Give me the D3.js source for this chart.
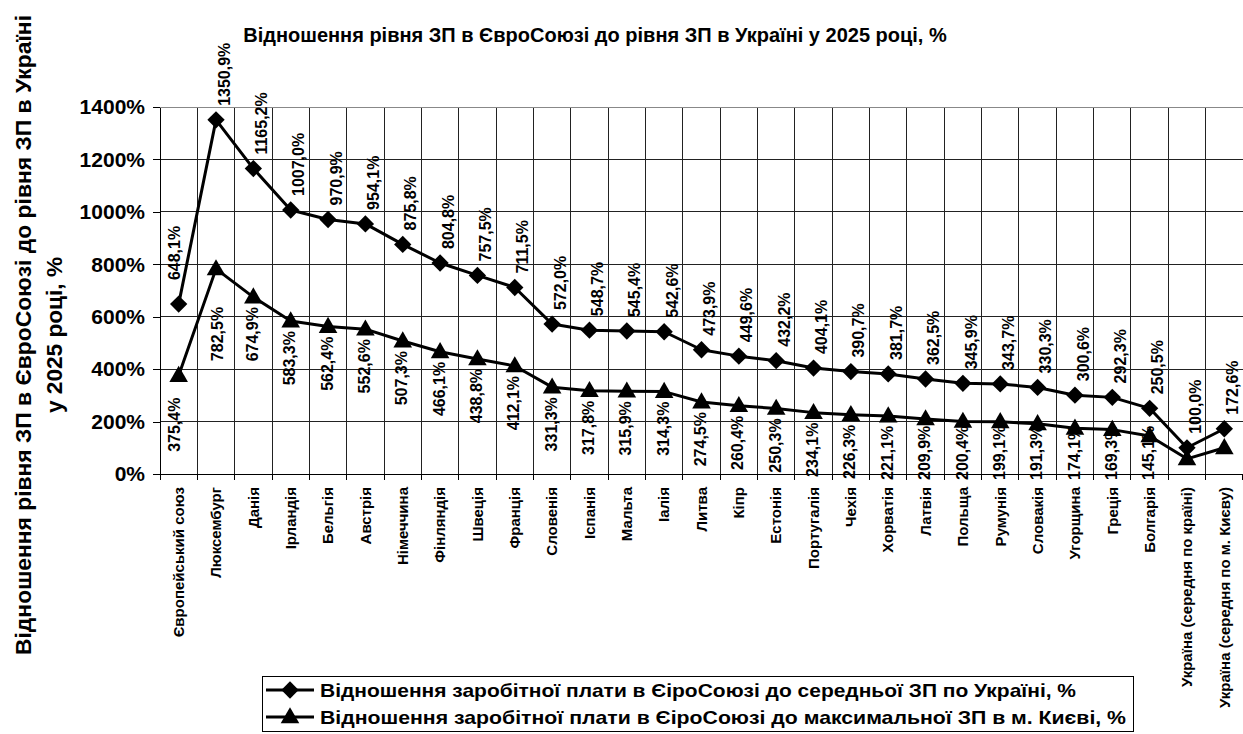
<!DOCTYPE html>
<html lang="uk">
<head>
<meta charset="UTF-8">
<title>Відношення рівня ЗП</title>
<style>
  body { margin: 0; background: #fff; }
  svg { display: block; font-family: "Liberation Sans", Arial, sans-serif; font-weight: bold; }
</style>
</head>
<body>
<script src="https://cdn.jsdelivr.net/npm/d3@7"></script>
<script>
const categories = ['Європейський союз', 'Люксембург', 'Данія', 'Ірландія', 'Бельгія', 'Австрія',
  'Німеччина', 'Фінляндія', 'Швеція', 'Франція', 'Словенія', 'Іспанія', 'Мальта', 'Іалія', 'Литва',
  'Кіпр', 'Естонія', 'Португалія', 'Чехія', 'Хорватія', 'Латвія', 'Польща', 'Румунія', 'Словакія',
  'Угорщина', 'Греція', 'Болгарія', 'Україна (середня по країні)', 'Україна (середня по м. Києву)'];

// відношення до середньої ЗП по Україні, %
const avgRatio = [648.1, 1350.9, 1165.2, 1007.0, 970.9, 954.1, 875.8, 804.8, 757.5, 711.5, 572.0, 548.7,
  545.4, 542.6, 473.9, 449.6, 432.2, 404.1, 390.7, 381.7, 362.5, 345.9, 343.7, 330.3, 300.6, 292.3,
  250.5, 100.0, 172.6];

// відношення до максимальної ЗП в м. Києві, %
const kyivRatio = [375.4, 782.5, 674.9, 583.3, 562.4, 552.6, 507.3, 466.1, 438.8, 412.1, 331.3, 317.8,
  315.9, 314.3, 274.5, 260.4, 250.3, 234.1, 226.3, 221.1, 209.9, 200.4, 199.1, 191.3, 174.1, 169.3,
  145.1, 57.9, 100.0];

const yTicks = [0, 200, 400, 600, 800, 1000, 1200, 1400];
const kyivNoLabel = ['Україна (середня по країні)', 'Україна (середня по м. Києву)'];

const seriesNames = [
  'Відношення заробітної плати в ЄіроСоюзі до середньої ЗП по Україні, %',
  'Відношення заробітної плати в ЄіроСоюзі до максимальної ЗП  в м. Києві, %'
];

const w = 1243, h = 734;
const pLeft = 160, pRight = 1243, pTop = 107, pBottom = 474;

const svg = d3.select('body').append('svg')
  .attr('width', w).attr('height', h);

const x = d3.scaleBand().domain(categories).range([pLeft, pRight]);
const y = d3.scaleLinear().domain([0, 1400]).range([pBottom, pTop]);
const cx = d => x(d) + x.bandwidth() / 2;
const pct = v => d3.format('.1f')(v).replace('.', ',') + '%';

// сітка
const grid = svg.append('g');
grid.selectAll('.hg').data(yTicks).enter().append('line')
  .attr('x1', pLeft).attr('x2', pRight)
  .attr('y1', d => y(d)).attr('y2', d => y(d))
  .attr('stroke', '#222').attr('stroke-width', 1).attr('shape-rendering', 'crispEdges');
grid.selectAll('.vg').data(categories.slice(1)).enter().append('line')
  .attr('x1', d => x(d)).attr('x2', d => x(d))
  .attr('y1', pTop).attr('y2', pBottom)
  .attr('stroke', '#222').attr('stroke-width', 1).attr('shape-rendering', 'crispEdges');
svg.append('line').attr('x1', pLeft).attr('x2', pRight).attr('y1', pTop).attr('y2', pTop)
  .attr('stroke', '#888').attr('shape-rendering', 'crispEdges');

// вісь Y
const yAxis = svg.append('g')
  .attr('transform', `translate(${pLeft},0)`)
  .call(d3.axisLeft(y).tickValues(yTicks).tickSize(7).tickSizeOuter(0).tickPadding(8)
    .tickFormat(d => d + '%'));
yAxis.select('.domain').attr('stroke', '#000').attr('shape-rendering', 'crispEdges');
yAxis.selectAll('line').attr('stroke', '#000').attr('shape-rendering', 'crispEdges');
yAxis.selectAll('text').attr('font-size', 21).attr('font-family', '"Liberation Sans", Arial')
  .attr('font-weight', 'bold').attr('fill', '#000');

// вісь X
const xAxis = svg.append('g')
  .attr('transform', `translate(0,${pBottom})`)
  .call(d3.axisBottom(x).tickSize(0).tickSizeOuter(0));
xAxis.select('.domain').attr('stroke', '#000').attr('shape-rendering', 'crispEdges');
xAxis.selectAll('text')
  .attr('font-size', 15).attr('font-family', '"Liberation Sans", Arial').attr('font-weight', 'bold')
  .attr('fill', '#000')
  .attr('text-anchor', 'end')
  .attr('transform', 'rotate(-90)')
  .attr('x', -13).attr('y', 0).attr('dy', '0.35em');
svg.append('g').selectAll('line').data(categories.concat(['__end'])).enter().append('line')
  .attr('x1', d => d === '__end' ? pRight - 0.5 : x(d)).attr('x2', d => d === '__end' ? pRight - 0.5 : x(d))
  .attr('y1', pBottom).attr('y2', pBottom + 6)
  .attr('stroke', '#000').attr('shape-rendering', 'crispEdges');

// лінії
const line = d3.line().x(d => cx(d.c)).y(d => y(d.v));
const s1 = categories.map((c, i) => ({ c, v: avgRatio[i] }));
const s2 = categories.map((c, i) => ({ c, v: kyivRatio[i] }));

svg.append('path').datum(s1).attr('d', line)
  .attr('fill', 'none').attr('stroke', '#000').attr('stroke-width', 3).attr('stroke-linejoin', 'round');
svg.append('path').datum(s2).attr('d', line)
  .attr('fill', 'none').attr('stroke', '#000').attr('stroke-width', 3).attr('stroke-linejoin', 'round');

// підписи
const labels = svg.append('g').attr('font-size', 16).attr('fill', '#000');

labels.selectAll('.l1').data(s1).enter().append('text')
  .attr('text-anchor', 'start')
  .attr('dy', '0.35em')
  .attr('transform', (d, i) => {
    let dx = 8, dy = -14;
    if (i === 0) { dx = -4; dy = -24; }
    return `translate(${cx(d.c) + dx},${y(d.v) + dy}) rotate(-90)`;
  })
  .text(d => pct(d.v));

labels.selectAll('.l2').data(s2.filter(d => !kyivNoLabel.includes(d.c))).enter().append('text')
  .attr('text-anchor', 'end')
  .attr('dy', '0.35em')
  .text(d => pct(d.v))
  .each(function (d, i) {
    const len = this.getComputedTextLength();
    let dx = -1, dy = 10;
    if (i === 0) { dx = -4; dy = 22; }
    if (i === 1) { dx = 1; dy = 38; }
    let top0 = y(d.v) + dy;
    if (top0 + len > pBottom + 6) top0 = pBottom + 6 - len;
    d3.select(this).attr('transform', `translate(${cx(d.c) + dx},${top0}) rotate(-90)`);
  });

// маркери
const diamond = d3.symbol().type(d3.symbolSquare).size(150);
const triangle = d3.symbol().type(d3.symbolTriangle).size(150);
svg.append('g').selectAll('path').data(s1).enter().append('path')
  .attr('d', diamond)
  .attr('transform', d => `translate(${cx(d.c)},${y(d.v)}) rotate(45)`)
  .attr('fill', '#000');
svg.append('g').selectAll('path').data(s2).enter().append('path')
  .attr('d', triangle)
  .attr('transform', d => `translate(${cx(d.c)},${y(d.v) + 1})`)
  .attr('fill', '#000');

// заголовок
svg.append('text')
  .attr('x', 595).attr('y', 42)
  .attr('text-anchor', 'middle').attr('font-size', 20)
  .text('Відношення рівня ЗП в ЄвроСоюзі до рівня ЗП в Україні у 2025 році, %');

// підпис осі Y
const yt = svg.append('text')
  .attr('transform', 'translate(0,335) rotate(-90)')
  .attr('text-anchor', 'middle').attr('font-size', 22);
yt.append('tspan').attr('x', 0).attr('y', 31)
  .attr('textLength', 640).attr('lengthAdjust', 'spacingAndGlyphs')
  .text('Відношення рівня ЗП в ЄвроСоюзі до рівня ЗП в Україні');
yt.append('tspan').attr('x', 0).attr('y', 62)
  .attr('textLength', 156).attr('lengthAdjust', 'spacingAndGlyphs')
  .text('у 2025 році, %');

// легенда
const lg = svg.append('g');
lg.append('rect').attr('x', 262.5).attr('y', 676.5).attr('width', 871).attr('height', 55)
  .attr('fill', '#fff').attr('stroke', '#000');
const rows = lg.selectAll('.row').data(seriesNames).enter().append('g')
  .attr('transform', (d, i) => `translate(0,${690 + i * 27})`);
rows.append('line').attr('x1', 266).attr('x2', 314).attr('stroke', '#000').attr('stroke-width', 3);
rows.append('path')
  .attr('d', (d, i) => (i === 0 ? diamond : triangle)())
  .attr('transform', (d, i) => i === 0 ? 'translate(290,0) rotate(45)' : 'translate(290,1)')
  .attr('fill', '#000');
rows.append('text').attr('x', 320).attr('dy', '0.35em').attr('font-size', 19)
  .attr('textLength', (d, i) => i === 0 ? 756 : 806)
  .attr('lengthAdjust', 'spacingAndGlyphs')
  .text(d => d);
</script>
</body>
</html>
